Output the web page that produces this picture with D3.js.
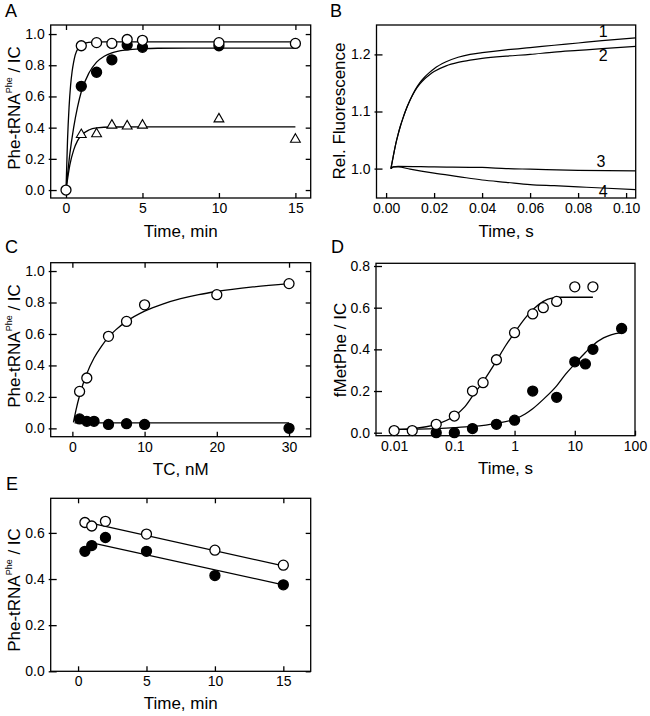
<!DOCTYPE html>
<html><head><meta charset="utf-8">
<script src="https://cdn.jsdelivr.net/npm/d3@7"></script>
<style>
body{margin:0;background:#fff}
svg{display:block}
text{font-family:"Liberation Sans",Arial,Helvetica,sans-serif;fill:#000}
</style>
</head><body>
<svg id="chart" width="650" height="716"></svg>
<script>
// ---------- Panel A ----------
const aOpenTime = [0, 1, 2, 3, 4, 5, 10, 15];
const aOpenVal  = [0, 0.925, 0.945, 0.94, 0.965, 0.96, 0.945, 0.94];
const aFilledTime = [1, 2, 3, 4, 5, 10];
const aFilledVal  = [0.665, 0.755, 0.835, 0.93, 0.915, 0.925];
const aTriTime = [1, 2, 3, 4, 5, 10, 15];
const aTriVal  = [0.355, 0.36, 0.415, 0.41, 0.415, 0.455, 0.325];
const aOpenFit = [[0,0],[0.1,0.32],[0.2,0.53],[0.3,0.67],[0.4,0.76],[0.5,0.82],[0.6,0.865],[0.8,0.91],[1,0.93],[1.3,0.943],[1.7,0.948],[2.5,0.95],[15,0.95]];
const aFilledFit = [[0,0],[0.25,0.23],[0.5,0.40],[0.75,0.53],[1,0.63],[1.5,0.75],[2,0.82],[2.5,0.858],[3,0.88],[4,0.899],[5,0.906],[6,0.909],[8,0.91],[15,0.91]];
const aTriFit = [[0,0],[0.25,0.16],[0.5,0.256],[0.75,0.315],[1,0.35],[1.5,0.385],[2,0.398],[3,0.404],[5,0.405],[15,0.405]];
const aXTicks = [0, 5, 10, 15];
const aYTicks = [0, 0.2, 0.4, 0.6, 0.8, 1.0];

// ---------- Panel B ----------
const bTrace1 = [[0.002,1.000],[0.003,1.022],[0.004,1.043],[0.005,1.060],[0.006,1.075],[0.007,1.088],[0.008,1.100],[0.010,1.120],[0.012,1.137],[0.014,1.150],[0.016,1.160],[0.018,1.168],[0.020,1.175],[0.025,1.187],[0.030,1.195],[0.035,1.200],[0.040,1.203],[0.050,1.208],[0.060,1.212],[0.070,1.216],[0.080,1.220],[0.090,1.224],[0.104,1.229]];
const bTrace2 = [[0.002,1.000],[0.003,1.022],[0.004,1.043],[0.005,1.060],[0.006,1.075],[0.007,1.088],[0.008,1.100],[0.010,1.120],[0.012,1.136],[0.014,1.148],[0.016,1.157],[0.018,1.164],[0.020,1.170],[0.025,1.180],[0.030,1.186],[0.035,1.190],[0.040,1.193],[0.050,1.197],[0.060,1.200],[0.070,1.204],[0.080,1.207],[0.090,1.210],[0.104,1.214]];
const bTrace3 = [[0.002,1.000],[0.003,1.003],[0.005,1.004],[0.020,1.003],[0.040,1.002],[0.050,1.000],[0.060,0.999],[0.080,0.997],[0.104,0.996]];
const bTrace4 = [[0.002,1.000],[0.003,1.003],[0.005,1.003],[0.010,0.999],[0.020,0.992],[0.030,0.986],[0.040,0.980],[0.050,0.976],[0.060,0.972],[0.070,0.970],[0.080,0.968],[0.090,0.966],[0.104,0.963]];
const bLabels = ["1", "2", "3", "4"];
const bLabelPos = [[0.0905,1.231],[0.0905,1.188],[0.0895,1.003],[0.0905,0.951]];
const bXTicks = [0, 0.02, 0.04, 0.06, 0.08, 0.10];
const bYTicks = [1.0, 1.1, 1.2];

// ---------- Panel C ----------
const cOpenTC  = [1, 2, 5, 7.5, 10, 20, 30];
const cOpenVal = [0.235, 0.32, 0.585, 0.68, 0.785, 0.85, 0.92];
const cFilledTC  = [1, 2, 3, 5, 7.5, 10, 30];
const cFilledVal = [0.06, 0.045, 0.045, 0.025, 0.03, 0.025, 0.0];
const cOpenFit = [[0.15,0.038],[0.5,0.116],[1,0.209],[1.5,0.285],[2,0.348],[3,0.447],[4,0.52],[5,0.58],[6,0.626],[7.5,0.68],[10,0.745],[12.5,0.79],[15,0.824],[17.5,0.85],[20,0.87],[25,0.899],[30,0.92]];
const cFilledFit = [[0.3,0.035],[30,0.035]];
const cXTicks = [0, 10, 20, 30];
const cYTicks = [0, 0.2, 0.4, 0.6, 0.8, 1.0];

// ---------- Panel D ----------
const dOpenTime = [0.01, 0.02, 0.05, 0.1, 0.2, 0.3, 0.5, 1, 2, 3, 5, 10, 20];
const dOpenVal  = [0.01, 0.01, 0.04, 0.08, 0.2, 0.24, 0.35, 0.48, 0.57, 0.6, 0.63, 0.70, 0.70];
const dFilledTime = [0.05, 0.1, 0.2, 0.5, 1, 2, 5, 10, 15, 20, 60];
const dFilledVal  = [0.0, 0.0, 0.02, 0.04, 0.06, 0.2, 0.17, 0.34, 0.33, 0.4, 0.5];
const dOpenFit = [[0.01,0.016],[0.02,0.02],[0.05,0.04],[0.1,0.08],[0.15,0.125],[0.2,0.175],[0.3,0.245],[0.5,0.345],[0.7,0.415],[1,0.48],[1.5,0.55],[2,0.59],[3,0.63],[4,0.645],[6,0.65],[20,0.65]];
const dFilledFit = [[0.01,0.016],[0.05,0.02],[0.1,0.024],[0.2,0.03],[0.5,0.045],[1,0.065],[1.5,0.09],[2,0.115],[3,0.16],[5,0.225],[7,0.28],[10,0.33],[15,0.385],[20,0.42],[30,0.455],[40,0.47],[60,0.48]];
const dXTicks = [0.01, 0.1, 1, 10, 100];
const dXTickLabels = ["0.01", "0.1", "1", "10", "100"];
const dYTicks = [0, 0.2, 0.4, 0.6, 0.8];

// ---------- Panel E ----------
const eOpenTime = [0.5, 1, 2, 5, 10, 15];
const eOpenVal  = [0.645, 0.63, 0.65, 0.595, 0.525, 0.46];
const eFilledTime = [0.5, 1, 2, 5, 10, 15];
const eFilledVal  = [0.52, 0.545, 0.58, 0.52, 0.415, 0.375];
const eOpenFit = [[0.77,0.645],[15,0.457]];
const eFilledFit = [[0.77,0.56],[15,0.375]];
const eXTicks = [0, 5, 10, 15];
const eYTicks = [0, 0.2, 0.4, 0.6];

// ======================================================
const svg = d3.select("#chart");
const TICK_FONT = 14, TITLE_FONT = 17, LETTER_FONT = 18;
const SW = 1.3;

function makePanel(o) {
  const g = svg.append("g");
  const x = (o.log ? d3.scaleLog() : d3.scaleLinear()).domain(o.xDomain).range([o.left, o.right]);
  const y = d3.scaleLinear().domain(o.yDomain).range([o.bottom, o.top]);

  // frame
  g.append("rect").attr("x", o.left).attr("y", o.top)
    .attr("width", o.right - o.left).attr("height", o.bottom - o.top)
    .attr("fill", "none").attr("stroke", "#000").attr("stroke-width", SW);

  const xAxis = d3.axisBottom(x).tickValues(o.xTicks).tickSize(-5).tickPadding(5)
    .tickFormat((d, i) => o.xLabels ? o.xLabels[i] : o.xFormat(d));
  const gx = g.append("g").attr("transform", `translate(0,${o.bottom})`).call(xAxis);
  const yAxis = d3.axisLeft(y).tickValues(o.yTicks).tickSize(-6).tickPadding(6)
    .tickFormat(o.yFormat);
  const gy = g.append("g").attr("transform", `translate(${o.left},0)`).call(yAxis);
  gy.selectAll(".tick line").attr("x1", -2);
  [gx, gy].forEach(a => {
    a.select(".domain").remove();
    a.selectAll(".tick line").attr("stroke", "#000").attr("stroke-width", SW);
    a.selectAll("text").attr("font-size", TICK_FONT).attr("font-family", '"Liberation Sans",Arial,sans-serif').attr("fill", "#000");
  });
  if (o.mirror) {
    const gxt = g.append("g").attr("transform", `translate(0,${o.top})`)
      .call(d3.axisTop(x).tickValues(o.xTicks).tickSize(-5).tickFormat(""));
    const gyr = g.append("g").attr("transform", `translate(${o.right},0)`)
      .call(d3.axisRight(y).tickValues(o.yTicks).tickSize(-5).tickFormat(""));
    [gxt, gyr].forEach(a => {
      a.select(".domain").remove();
      a.selectAll(".tick line").attr("stroke", "#000").attr("stroke-width", SW);
    });
  }

  // titles
  g.append("text").attr("x", (o.left + o.right) / 2).attr("y", o.xTitleY)
    .attr("text-anchor", "middle").attr("font-size", TITLE_FONT).text(o.xTitle);
  const yt = g.append("text")
    .attr("transform", `translate(${o.yTitleX},${o.yTitleCY}) rotate(-90)`)
    .attr("text-anchor", "middle").attr("font-size", TITLE_FONT);
  o.yTitle.forEach(part => {
    const ts = yt.append("tspan").text(part.t);
    if (part.sup) ts.attr("font-size", 9).attr("dy", -8);
    else if (part.after) ts.attr("dy", 8);
  });
  g.append("text").attr("x", o.letterX).attr("y", o.letterY)
    .attr("font-size", LETTER_FONT).text(o.letter);

  return { g, x, y };
}

function fitLine(p, pts) {
  p.g.append("path").datum(pts)
    .attr("d", d3.line().x(d => p.x(d[0])).y(d => p.y(d[1])).curve(d3.curveMonotoneX))
    .attr("fill", "none").attr("stroke", "#000").attr("stroke-width", SW);
}
function circles(p, xs, ys, open) {
  p.g.append("g").selectAll("circle").data(xs).join("circle")
    .attr("cx", d => p.x(d)).attr("cy", (d, i) => p.y(ys[i])).attr("r", 5)
    .attr("fill", open ? "#fff" : "#000").attr("stroke", "#000").attr("stroke-width", SW);
}
function triangles(p, xs, ys) {
  const sym = d3.symbol().type(d3.symbolTriangle).size(42);
  p.g.append("g").selectAll("path").data(xs).join("path")
    .attr("transform", (d, i) => `translate(${p.x(d)},${p.y(ys[i])})`)
    .attr("d", sym).attr("fill", "#fff").attr("stroke", "#000").attr("stroke-width", 1.1);
}

const f1 = d3.format(".1f"), f2 = d3.format(".2f"), f0 = d3.format("d");
const pheTitle = [{t: "Phe-tRNA"}, {t: "Phe", sup: true}, {t: " / IC", after: true}];

// Panel A
const pA = makePanel({left: 50.7, right: 310.7, top: 25, bottom: 198,
  xDomain: [-1, 16], yDomain: [-0.051, 1.058], xTicks: aXTicks, yTicks: aYTicks,
  xFormat: f0, yFormat: f1, mirror: true,
  xTitle: "Time, min", xTitleY: 237, yTitle: pheTitle, yTitleX: 20, yTitleCY: 108,
  letter: "A", letterX: 5, letterY: 17});
fitLine(pA, aOpenFit); fitLine(pA, aFilledFit); fitLine(pA, aTriFit);
triangles(pA, aTriTime, aTriVal);
circles(pA, aFilledTime, aFilledVal, false);
circles(pA, aOpenTime, aOpenVal, true);

// Panel B
const pB = makePanel({left: 376.5, right: 635.7, top: 25, bottom: 198,
  xDomain: [-0.004, 0.104], yDomain: [0.9485, 1.2515], xTicks: bXTicks, yTicks: bYTicks,
  xFormat: f2, yFormat: f1, mirror: false,
  xTitle: "Time, s", xTitleY: 237, yTitle: [{t: "Rel. Fluorescence"}], yTitleX: 345, yTitleCY: 111,
  letter: "B", letterX: 330, letterY: 17});
[bTrace1, bTrace2, bTrace3, bTrace4].forEach(t => {
  pB.g.append("path").datum(t)
    .attr("d", d3.line().x(d => pB.x(d[0])).y(d => pB.y(d[1])).curve(d3.curveMonotoneX))
    .attr("fill", "none").attr("stroke", "#000").attr("stroke-width", 1.2);
});
pB.g.append("g").selectAll("text").data(bLabels).join("text")
  .attr("x", (d, i) => pB.x(bLabelPos[i][0])).attr("y", (d, i) => pB.y(bLabelPos[i][1]))
  .attr("text-anchor", "middle").attr("font-size", 16).text(d => d);

// Panel C
const pC = makePanel({left: 50.7, right: 310.7, top: 262.7, bottom: 436.7,
  xDomain: [-3, 33], yDomain: [-0.053, 1.053], xTicks: cXTicks, yTicks: cYTicks,
  xFormat: f0, yFormat: f1, mirror: true,
  xTitle: "TC, nM", xTitleY: 475, yTitle: pheTitle, yTitleX: 20, yTitleCY: 346,
  letter: "C", letterX: 5, letterY: 253});
fitLine(pC, cOpenFit); fitLine(pC, cFilledFit);
circles(pC, cFilledTC, cFilledVal, false);
circles(pC, cOpenTC, cOpenVal, true);

// Panel D
const pD = makePanel({left: 376, right: 635, top: 263.3, bottom: 435.7, log: true,
  xDomain: [0.005, 100], yDomain: [-0.0144, 0.813], xTicks: dXTicks, xLabels: dXTickLabels, yTicks: dYTicks,
  yFormat: f1, mirror: false,
  xTitle: "Time, s", xTitleY: 474, yTitle: [{t: "fMetPhe / IC"}], yTitleX: 346, yTitleCY: 350,
  letter: "D", letterX: 331, letterY: 253});
fitLine(pD, dOpenFit); fitLine(pD, dFilledFit);
circles(pD, dFilledTime, dFilledVal, false);
circles(pD, dOpenTime, dOpenVal, true);

// Panel E
const pE = makePanel({left: 50.7, right: 310.7, top: 498.3, bottom: 671.3,
  xDomain: [-2, 17], yDomain: [0, 0.75], xTicks: eXTicks, yTicks: eYTicks,
  xFormat: f0, yFormat: f1, mirror: true,
  xTitle: "Time, min", xTitleY: 709, yTitle: pheTitle, yTitleX: 20, yTitleCY: 590,
  letter: "E", letterX: 6, letterY: 490});
fitLine(pE, eOpenFit); fitLine(pE, eFilledFit);
circles(pE, eFilledTime, eFilledVal, false);
circles(pE, eOpenTime, eOpenVal, true);
</script>
</body></html>
